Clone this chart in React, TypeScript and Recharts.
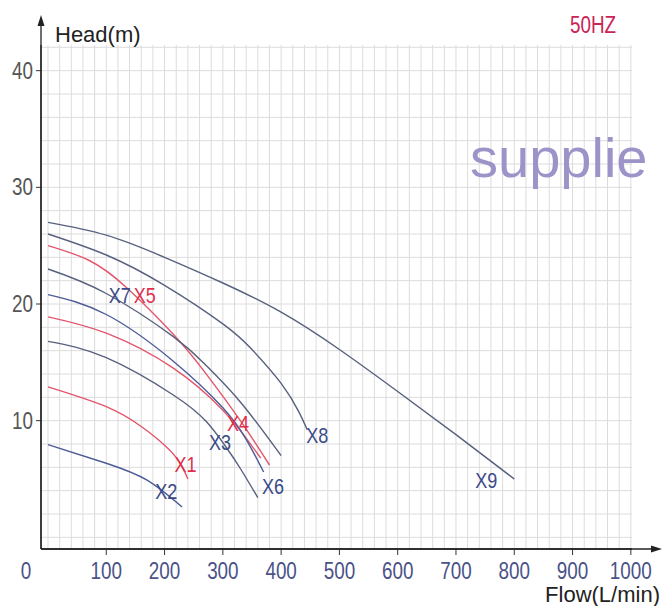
import React from 'react';
import { LineChart, Line, XAxis, YAxis, CartesianGrid, ReferenceDot } from 'recharts';

// axis ticks
const flowTicks = [0, 100, 200, 300, 400, 500, 600, 700, 800, 900, 1000];
const headTicks = [10, 20, 30, 40];
const gridFlows = Array.from({ length: 51 }, (_, i) => i * 20);
const gridHeads = Array.from({ length: 22 }, (_, i) => i * 2);

// pump curves, [flow L/min, head m]
const X1 = [[0, 12.9], [100, 11.2], [160, 9.5], [200, 7.9], [225, 6.5], [240, 5.0]];
const X2 = [[0, 7.95], [100, 6.35], [170, 4.9], [230, 2.6]];
const X3 = [[0, 16.8], [100, 15.4], [215, 12.2], [272, 9.9], [306, 7.7], [330, 5.9], [360, 3.4]];
const X4 = [[0, 18.9], [100, 17.5], [215, 14.5], [300, 10.9], [340, 8.5], [365, 6.8]];
const X5 = [[0, 25], [70, 23.75], [135, 21.4], [215, 17.4], [270, 14.1], [330, 10], [380, 6.2]];
const X6 = [[0, 20.8], [100, 19.1], [215, 15.1], [300, 11.1], [340, 8.4], [370, 5.6]];
const X7 = [[0, 23], [100, 20.9], [215, 17.2], [270, 14.8], [330, 11.6], [400, 7]];
const X8 = [[0, 26], [100, 24.2], [200, 21.6], [300, 18.3], [350, 16.1], [400, 13.2], [430, 10.8], [445, 9.2]];
const X9 = [[0, 27], [100, 25.9], [200, 24], [300, 21.8], [400, 19.3], [500, 16.1], [600, 12.5], [700, 8.8], [800, 5]];

const RED = '#e2566c';
const BLUE = '#4d5b96';
const SLATE = '#57607e';

const curves = [
  { name: 'X1', pts: X1, color: RED },
  { name: 'X2', pts: X2, color: BLUE },
  { name: 'X3', pts: X3, color: SLATE },
  { name: 'X4', pts: X4, color: RED },
  { name: 'X5', pts: X5, color: RED },
  { name: 'X6', pts: X6, color: BLUE },
  { name: 'X7', pts: X7, color: SLATE },
  { name: 'X8', pts: X8, color: SLATE },
  { name: 'X9', pts: X9, color: SLATE },
];

// curve tags
const tagNames = ['X7', 'X5', 'X4', 'X3', 'X1', 'X2', 'X6', 'X8', 'X9'];
const tagFlows = [123, 166, 326, 295, 236, 203, 386, 462, 752];
const tagHeads = [20.8, 20.8, 9.8, 8.15, 6.3, 4.0, 4.4, 8.8, 4.9];
const tagRed = ['X5', 'X4', 'X1'];

const SANS = "'Liberation Sans', Arial, sans-serif";

// Arial Narrow look-alike: squeeze Liberation Sans horizontally
function NText({ x, y, anchor = 'start', size, fill, children }: any) {
  return (
    <text
      transform={`translate(${x} ${y}) scale(0.82 1)`}
      textAnchor={anchor}
      fontFamily={SANS}
      fontSize={size}
      fill={fill}
    >
      {children}
    </text>
  );
}

function FlowTick(props: any) {
  const { x, y, payload } = props;
  if (payload.value === 0) {
    return <NText x={x - 22} y={y + 20} anchor="middle" size={23} fill="#4a5288">0</NText>;
  }
  return (
    <g>
      <line x1={x} x2={x} y1={y - 10} y2={y - 4} stroke="#333" strokeWidth={1} />
      <NText x={x} y={y + 20} anchor="middle" size={23} fill="#4a5288">{payload.value}</NText>
    </g>
  );
}

function HeadTick(props: any) {
  const { x, y, payload } = props;
  return <NText x={x - 1} y={y + 8} anchor="end" size={23} fill="#555">{payload.value}</NText>;
}

function TagLabel(props: any) {
  const { viewBox, text, color } = props;
  const cx = viewBox.x + (viewBox.width || 0) / 2;
  const cy = viewBox.y + (viewBox.height || 0) / 2;
  return <NText x={cx} y={cy + 8} anchor="middle" size={22} fill={color}>{text}</NText>;
}

export default function App() {
  return (
    <div style={{ position: 'absolute', left: 0, top: 0, width: 663, height: 606, background: '#fff' }}>
      <LineChart width={663} height={606} margin={{ top: 45, right: 31, bottom: 0, left: 0 }}>
        <CartesianGrid
          stroke="#dcdcdc"
          strokeWidth={1}
          verticalCoordinatesGenerator={({ xAxis, offset }: any) =>
            gridFlows.map((v) =>
              xAxis && typeof xAxis.scale === 'function'
                ? xAxis.scale(v)
                : offset.left + ((v + 12) / 1014) * offset.width
            )
          }
          horizontalCoordinatesGenerator={({ yAxis, offset }: any) =>
            gridHeads.map((v) =>
              yAxis && typeof yAxis.scale === 'function'
                ? yAxis.scale(v)
                : offset.top + ((42.2 - v) / 43.2) * offset.height
            )
          }
        />
        <XAxis
          dataKey="flow"
          type="number"
          domain={[-12, 1002]}
          ticks={flowTicks}
          allowDataOverflow
          height={57}
          tickSize={6}
          tickMargin={4}
          tickLine={false}
          axisLine={{ stroke: '#222', strokeWidth: 1.3 }}
          tick={<FlowTick />}
          interval={0}
        />
        <YAxis
          type="number"
          domain={[-1, 42.2]}
          ticks={headTicks}
          allowDataOverflow
          width={41}
          tickSize={5}
          tickMargin={2}
          axisLine={{ stroke: '#222', strokeWidth: 1.3 }}
          tickLine={{ stroke: '#333' }}
          tick={<HeadTick />}
          interval={0}
        />
        {curves.map((c) => (
          <Line
            key={c.name}
            data={c.pts.map(([flow, head]) => ({ flow, head }))}
            dataKey="head"
            type="natural"
            stroke={c.color}
            strokeWidth={1.4}
            dot={false}
            activeDot={false}
            isAnimationActive={false}
          />
        ))}
        {tagNames.map((n, i) => (
          <ReferenceDot
            key={n}
            x={tagFlows[i]}
            y={tagHeads[i]}
            r={0}
            fill="none"
            stroke="none"
            label={<TagLabel text={n} color={tagRed.includes(n) ? '#e0304c' : '#3b4a88'} />}
          />
        ))}
      </LineChart>
      <svg
        width={663}
        height={606}
        style={{ position: 'absolute', left: 0, top: 0, pointerEvents: 'none' }}
      >
        <line x1={41} y1={549} x2={41} y2={22} stroke="#222" strokeWidth={1.3} />
        <polygon points="41,15 37.5,26 44.5,26" fill="#222" />
        <line x1={41} y1={549} x2={654} y2={549} stroke="#222" strokeWidth={1.3} />
        <polygon points="662,549 651,545.5 651,552.5" fill="#222" />
        <text x={55} y={42} fontFamily={SANS} fontSize={22} fill="#222">Head(m)</text>
        <text x={660} y={602} textAnchor="end" fontFamily={SANS} fontSize={22} fill="#222">Flow(L/min)</text>
        <NText x={570} y={33} size={23} fill="#cc2255">50HZ</NText>
        <text x={470} y={177} fontFamily={SANS} fontSize={56} fill="#9d93c9">supplie</text>
      </svg>
    </div>
  );
}
